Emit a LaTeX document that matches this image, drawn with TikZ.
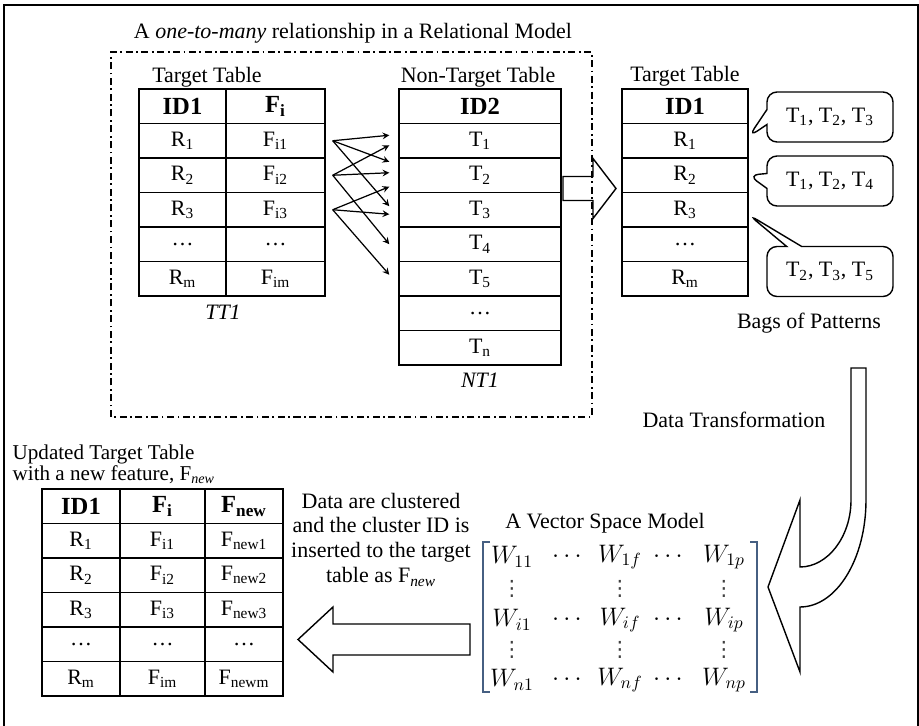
\documentclass[tikz,border=0pt]{standalone}
\usepackage{fontspec}
\setmainfont{Liberation Serif}
\newfontfamily\symfont{DejaVu Sans}
\usepackage{amsmath}
\usepackage{xcolor}
\usetikzlibrary{shapes.callouts}

\definecolor{bracketblue}{RGB}{70,95,130}

\tikzset{
  cell/.style={draw, minimum height=0.69cm, inner sep=0pt},
  hd/.style={cell, font=\fontsize{14}{16}\selectfont\bfseries},
  bag/.style={rectangle callout, draw, rounded corners=0.2cm, minimum width=2.52cm,
    minimum height=1cm, callout pointer width=0.3cm},
  link/.style={->, line width=0.7pt},
  entry/.style={inner sep=1pt, font=\fontsize{14}{16}\selectfont},
  vdot/.style={inner sep=0pt, text=black!75, font=\symfont\fontsize{12}{12}\selectfont}
}

\begin{document}
\begin{tikzpicture}[>=stealth, thick, font=\fontsize{12.5}{15}\selectfont]
        \useasboundingbox (0,0) rectangle (18.38,14.52);

        % Frame
        \draw[line width=1.6pt] (0.08,0) -- (0.08,14.42) -- (18.36,14.42) -- (18.36,0);

        % Relational model box
        \node (title) at (7.06,13.86) {A \textit{one-to-many} relationship in a Relational Model};
        \draw[semithick, dash pattern=on 4pt off 2pt on 1pt off 2pt] (2.22,6.18) rectangle (11.84,13.48);

        % Target table TT1
        \node (tt1lbl) at (4.14,12.98) {Target Table};
        \node[hd, minimum width=1.74cm] (id1) at (3.65,12.395) {ID1};
        \node[hd, minimum width=1.98cm] (fi) at (5.51,12.395) {F\textsubscript{i}};
        \node[cell, minimum width=1.74cm] (r1) at (3.65,11.705) {R\textsubscript{1}};
        \node[cell, minimum width=1.98cm] (f1) at (5.51,11.705) {F\textsubscript{i1}};
        \node[cell, minimum width=1.74cm] (r2) at (3.65,11.015) {R\textsubscript{2}};
        \node[cell, minimum width=1.98cm] (f2) at (5.51,11.015) {F\textsubscript{i2}};
        \node[cell, minimum width=1.74cm] (r3) at (3.65,10.325) {R\textsubscript{3}};
        \node[cell, minimum width=1.98cm] (f3) at (5.51,10.325) {F\textsubscript{i3}};
        \node[cell, minimum width=1.74cm] (rdots) at (3.65,9.635) {\dots};
        \node[cell, minimum width=1.98cm] (fdots) at (5.51,9.635) {\dots};
        \node[cell, minimum width=1.74cm] (rm) at (3.65,8.945) {R\textsubscript{m}};
        \node[cell, minimum width=1.98cm] (fm) at (5.51,8.945) {F\textsubscript{im}};
        \node (tt1) at (4.46,8.28) {\textit{TT1}};

        % Non-target table NT1
        \node (nt1lbl) at (9.56,12.98) {Non-Target Table};
        \node[hd, minimum width=3.24cm] (id2) at (9.60,12.395) {ID2};
        \node[cell, minimum width=3.24cm] (t1) at (9.60,11.705) {T\textsubscript{1}};
        \node[cell, minimum width=3.24cm] (t2) at (9.60,11.015) {T\textsubscript{2}};
        \node[cell, minimum width=3.24cm] (t3) at (9.60,10.325) {T\textsubscript{3}};
        \node[cell, minimum width=3.24cm] (t4) at (9.60,9.635) {T\textsubscript{4}};
        \node[cell, minimum width=3.24cm] (t5) at (9.60,8.945) {T\textsubscript{5}};
        \node[cell, minimum width=3.24cm] (tdots) at (9.60,8.255) {\dots};
        \node[cell, minimum width=3.24cm] (tn) at (9.60,7.565) {T\textsubscript{n}};
        \node (nt1) at (9.60,6.92) {\textit{NT1}};

        % One-to-many links
        \draw[link] ([xshift=0.14cm]f1.east) -- ([xshift=-0.18cm, yshift=0.11cm]t1.west);
        \draw[link] ([xshift=0.14cm]f1.east) -- ([xshift=-0.18cm, yshift=0.27cm]t2.west);
        \draw[link] ([xshift=0.14cm]f1.east) -- ([xshift=-0.18cm, yshift=0.07cm]t3.west);
        \draw[link] ([xshift=0.14cm]f2.east) -- ([xshift=-0.18cm, yshift=-0.09cm]t1.west);
        \draw[link] ([xshift=0.14cm]f2.east) -- ([xshift=-0.18cm, yshift=0.05cm]t2.west);
        \draw[link] ([xshift=0.14cm]f2.east) -- ([xshift=-0.18cm]t4.west);
        \draw[link] ([xshift=0.14cm]f3.east) -- ([xshift=-0.18cm, yshift=-0.23cm]t2.west);
        \draw[link] ([xshift=0.14cm]f3.east) -- ([xshift=-0.18cm, yshift=-0.09cm]t3.west);
        \draw[link] ([xshift=0.14cm]f3.east) -- ([xshift=-0.18cm, yshift=0.08cm]t5.west);

        % Hollow arrow to the bags
        \draw (11.26,10.99) -- (11.86,10.99) -- (11.86,11.35) -- (12.32,10.75)
              -- (11.86,10.15) -- (11.86,10.51) -- (11.26,10.51) -- cycle;

        % Target table with bags of patterns
        \node (tglbl) at (13.70,13.00) {Target Table};
        \node[hd, minimum width=2.52cm] (gid) at (13.70,12.395) {ID1};
        \node[cell, minimum width=2.52cm] (g1) at (13.70,11.705) {R\textsubscript{1}};
        \node[cell, minimum width=2.52cm] (g2) at (13.70,11.015) {R\textsubscript{2}};
        \node[cell, minimum width=2.52cm] (g3) at (13.70,10.325) {R\textsubscript{3}};
        \node[cell, minimum width=2.52cm] (gdots) at (13.70,9.635) {\dots};
        \node[cell, minimum width=2.52cm] (gm) at (13.70,8.945) {R\textsubscript{m}};

        \node[bag, callout absolute pointer={([yshift=0.08cm]g1.east)}] (bag1) at (16.60,12.18)
              {T\textsubscript{1}, T\textsubscript{2}, T\textsubscript{3}};
        \node[bag, callout absolute pointer={(g2.east)}] (bag2) at (16.60,10.90)
              {T\textsubscript{1}, T\textsubscript{2}, T\textsubscript{4}};
        \node[bag, callout absolute pointer={([yshift=-0.1cm]g3.east)}] (bag3) at (16.60,9.09)
              {T\textsubscript{2}, T\textsubscript{3}, T\textsubscript{5}};
        \node (bags) at (16.18,8.06) {Bags of Patterns};

        % Transformation arrow
        \node (trans) at (14.68,6.12) {Data Transformation};
        \draw (17.02,7.16) -- (17.32,7.16) -- (17.32,4.52)
              .. controls (17.32,3.34) and (16.73,2.38) .. (16.00,2.38)
              -- (16.00,1.08) -- (15.36,2.78) -- (16.00,4.52) -- (16.00,3.18)
              .. controls (16.55,3.18) and (17.02,3.78) .. (17.02,4.52) -- cycle;

        % Vector space model
        \node (vsm) at (12.10,4.06) {A Vector Space Model};
        \draw[bracketblue, thick] (9.80,3.68) -- (9.66,3.68) -- (9.66,0.68) -- (9.80,0.68);
        \draw[bracketblue, thick] (15.00,3.68) -- (15.14,3.68) -- (15.14,0.68) -- (15.00,0.68);
        \node[entry] (m11) at (10.24,3.38) {$W_{11}$};
        \node[entry] (h11) at (11.38,3.38) {$\cdots$};
        \node[entry] (m1f) at (12.40,3.38) {$W_{1f}$};
        \node[entry] (h12) at (13.40,3.38) {$\cdots$};
        \node[entry] (m1p) at (14.48,3.38) {$W_{1p}$};
        \node[vdot] (v11) at (10.24,2.75) {⋮};
        \node[vdot] (v12) at (12.40,2.75) {⋮};
        \node[vdot] (v13) at (14.48,2.75) {⋮};
        \node[entry] (mi1) at (10.24,2.12) {$W_{i1}$};
        \node[entry] (hi1) at (11.38,2.12) {$\cdots$};
        \node[entry] (mif) at (12.40,2.12) {$W_{if}$};
        \node[entry] (hi2) at (13.40,2.12) {$\cdots$};
        \node[entry] (mip) at (14.48,2.12) {$W_{ip}$};
        \node[vdot] (v21) at (10.24,1.52) {⋮};
        \node[vdot] (v22) at (12.40,1.52) {⋮};
        \node[vdot] (v23) at (14.48,1.52) {⋮};
        \node[entry] (mn1) at (10.24,0.92) {$W_{n1}$};
        \node[entry] (hn1) at (11.38,0.92) {$\cdots$};
        \node[entry] (mnf) at (12.40,0.92) {$W_{nf}$};
        \node[entry] (hn2) at (13.40,0.92) {$\cdots$};
        \node[entry] (mnp) at (14.48,0.92) {$W_{np}$};

        % Clustering step
        \node[align=center, font=\fontsize{12.5}{14.2}\selectfont] (clust) at (7.62,3.73)
              {Data are clustered\\and the cluster ID is\\inserted to the target\\table as F\textsubscript{\textit{new}}};
        \draw (9.40,2.04) -- (6.66,2.04) -- (6.66,2.38) -- (5.96,1.73)
              -- (6.66,1.08) -- (6.66,1.42) -- (9.40,1.42) -- cycle;

        % Updated target table
        \node[align=left, anchor=west, inner sep=0pt, font=\fontsize{12}{10.5}\selectfont] (uplbl) at (0.24,5.24)
              {Updated Target Table\\with a new feature, F\textsubscript{\textit{new}}};
        \node[hd, minimum width=1.56cm] (uid) at (1.62,4.395) {ID1};
        \node[hd, minimum width=1.70cm] (ufi) at (3.25,4.395) {F\textsubscript{i}};
        \node[hd, minimum width=1.56cm] (ufn) at (4.88,4.395) {F\textsubscript{new}};
        \node[cell, minimum width=1.56cm] (u1) at (1.62,3.705) {R\textsubscript{1}};
        \node[cell, minimum width=1.70cm] (uf1) at (3.25,3.705) {F\textsubscript{i1}};
        \node[cell, minimum width=1.56cm] (un1) at (4.88,3.705) {F\textsubscript{new1}};
        \node[cell, minimum width=1.56cm] (u2) at (1.62,3.015) {R\textsubscript{2}};
        \node[cell, minimum width=1.70cm] (uf2) at (3.25,3.015) {F\textsubscript{i2}};
        \node[cell, minimum width=1.56cm] (un2) at (4.88,3.015) {F\textsubscript{new2}};
        \node[cell, minimum width=1.56cm] (u3) at (1.62,2.325) {R\textsubscript{3}};
        \node[cell, minimum width=1.70cm] (uf3) at (3.25,2.325) {F\textsubscript{i3}};
        \node[cell, minimum width=1.56cm] (un3) at (4.88,2.325) {F\textsubscript{new3}};
        \node[cell, minimum width=1.56cm] (udots) at (1.62,1.635) {\dots};
        \node[cell, minimum width=1.70cm] (ufdots) at (3.25,1.635) {\dots};
        \node[cell, minimum width=1.56cm] (undots) at (4.88,1.635) {\dots};
        \node[cell, minimum width=1.56cm] (um) at (1.62,0.945) {R\textsubscript{m}};
        \node[cell, minimum width=1.70cm] (ufm) at (3.25,0.945) {F\textsubscript{im}};
        \node[cell, minimum width=1.56cm] (unm) at (4.88,0.945) {F\textsubscript{newm}};
    \end{tikzpicture}
\end{document}
